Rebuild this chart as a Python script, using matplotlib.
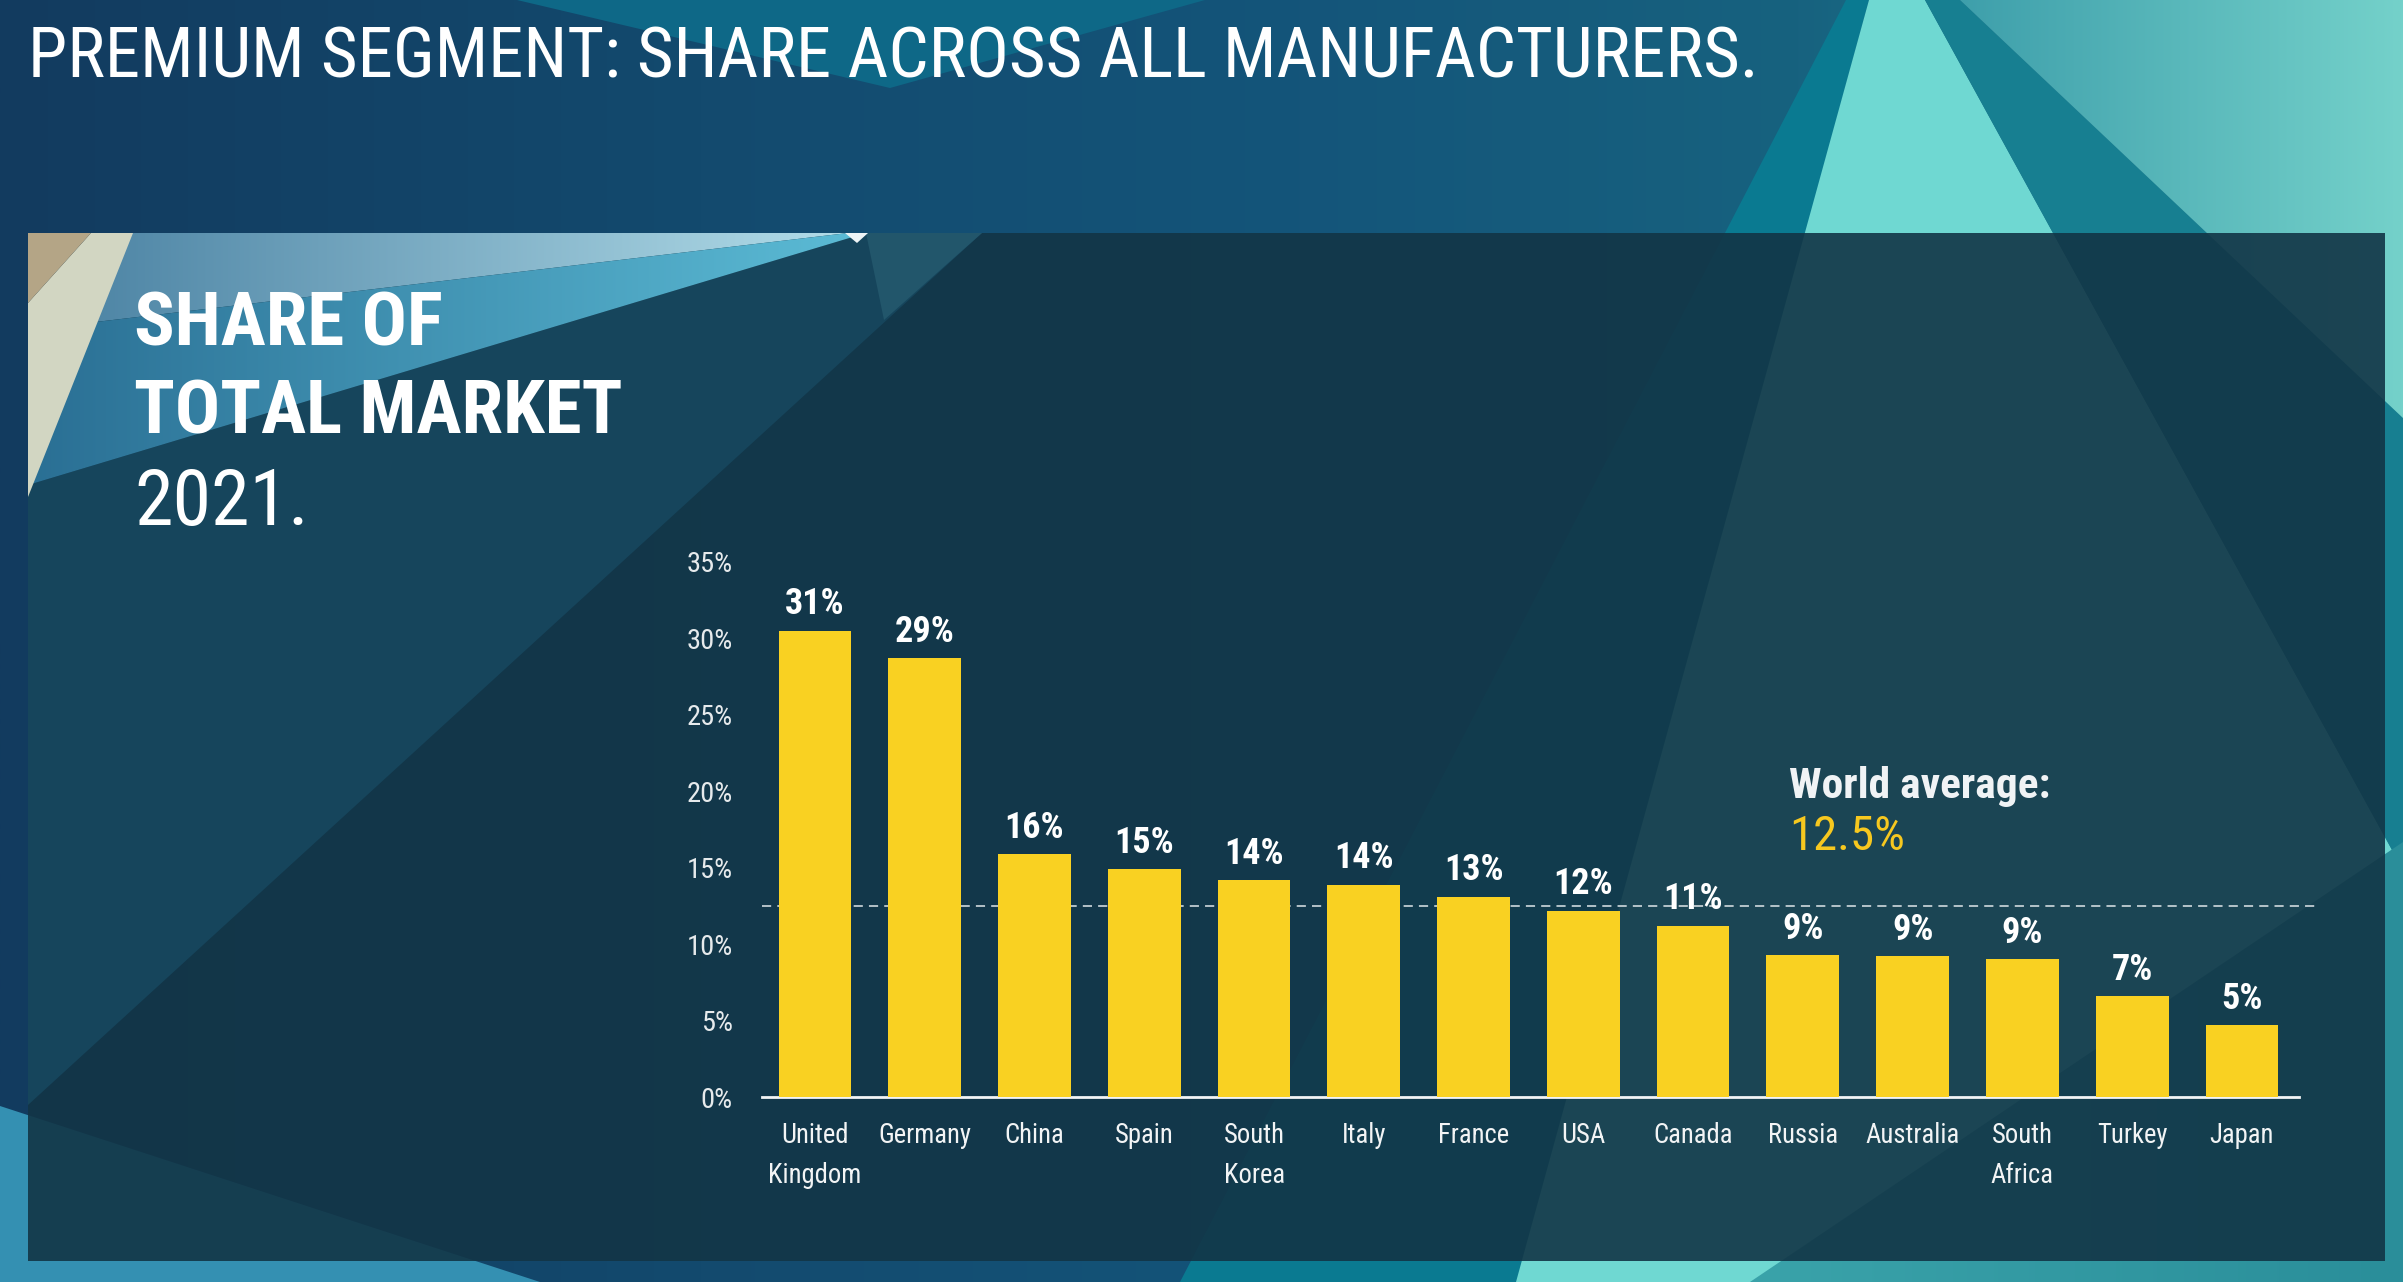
import numpy as np
import matplotlib.pyplot as plt
from matplotlib import font_manager
from matplotlib.patches import Polygon, Rectangle
from matplotlib.colors import to_rgb

# Data
countries = ['United\nKingdom', 'Germany', 'China', 'Spain', 'South\nKorea', 'Italy',
             'France', 'USA', 'Canada', 'Russia', 'Australia', 'South\nAfrica', 'Turkey', 'Japan']
share = [30.5, 28.7, 15.9, 14.9, 14.2, 13.9, 13.1, 12.2, 11.2, 9.3, 9.2, 9.0, 6.6, 4.7]
share_labels = ['31%', '29%', '16%', '15%', '14%', '14%', '13%', '12%', '11%',
                '9%', '9%', '9%', '7%', '5%']
world_avg = 12.5
y_ticks = [0, 5, 10, 15, 20, 25, 30, 35]

# Look for a narrow font, otherwise Roboto
fonts = font_manager.fontManager.ttflist
font, stretch = 'Roboto', 'normal'
found = False
for want in ['Roboto Condensed', 'Liberation Sans Narrow', 'Noto Sans Condensed',
             'Open Sans Condensed', 'DejaVu Sans Condensed']:
    if any(f.name == want for f in fonts):
        font, found = want, True
        break
if not found:
    for fam in ['Roboto', 'Noto Sans', 'Open Sans', 'DejaVu Sans']:
        if any(f.name == fam and str(f.stretch) in ('condensed', 'semi-condensed') for f in fonts):
            font, stretch = fam, 'condensed'
            break
plt.rcParams['font.family'] = [font, 'DejaVu Sans']
plt.rcParams['font.stretch'] = stretch

W, H = 2403, 1282
fig = plt.figure(figsize=(W / 100, H / 100), dpi=100)
renderer = fig.canvas.get_renderer()


def size_for(s, target, weight='normal', base=20):
    # font size that makes string s about target pixels wide
    t = fig.text(0, 0, s, fontsize=base, fontweight=weight)
    w = t.get_window_extent(renderer).width
    t.remove()
    return base * target / w


# Background axes in pixel coordinates
bg = fig.add_axes([0, 0, 1, 1])
bg.axis('off')


def grad(verts, stops, zorder, alpha=1.0):
    # horizontal gradient, optionally clipped to a polygon
    xs = np.linspace(0, W, 800)
    sx = [s[0] for s in stops]
    cols = np.array([to_rgb(s[1]) for s in stops])
    img = np.stack([np.interp(xs, sx, cols[:, i]) for i in range(3)], axis=-1)[None, :, :]
    im = bg.imshow(img, extent=(0, W, H, 0), aspect='auto', zorder=zorder,
                   alpha=alpha, interpolation='bilinear')
    if verts is not None:
        p = Polygon(verts, closed=True, facecolor='none', edgecolor='none')
        bg.add_patch(p)
        im.set_clip_path(p)


def poly(verts, color, zorder, alpha=1.0):
    bg.add_patch(Polygon(verts, closed=True, facecolor=color, edgecolor='none',
                         zorder=zorder, alpha=alpha))


# base backdrop
grad(None, [(0, '#123b5f'), (700, '#134a6e'), (1300, '#14557a'), (1800, '#17627f'),
            (W, '#2a8c9a')], 0)
poly([(517, 0), (1205, 0), (890, 88)], '#0e6887', 1)
poly([(1846, 0), (1869, 0), (1522, H), (1180, H)], '#0a7a91', 1)
poly([(1869, 0), (1925, 0), (W, 870), (W, H), (1516, H)], '#6fd8d2', 1)
poly([(1925, 0), (1960, 0), (W, 418), (W, 870)], '#177f91', 1)
grad([(1960, 0), (W, 0), (W, 418)], [(1960, '#3e9fab'), (W, '#74d1ca')], 1)
grad([(W, 842), (W, H), (1750, H)], [(1750, '#3aa3aa'), (W, '#2a8e9a')], 1)
poly([(0, 1106), (540, H), (0, H)], '#3490b2', 1)

# dark translucent panel
bg.add_patch(Rectangle((28, 233), 2357, 1028, facecolor='#123546', edgecolor='none',
                       alpha=0.9, zorder=2))

# light wedges in the panel's top-left corner
poly([(866, 233), (982, 233), (28, 1105), (28, 485)], '#16455c', 3)
poly([(866, 233), (982, 233), (884, 320)], '#22566b', 3)
grad([(91, 233), (848, 233), (28, 330)], [(91, '#4f86a6'), (848, '#b3dde9')], 3)
grad([(28, 330), (848, 233), (866, 233), (28, 485)], [(28, '#2a6f94'), (866, '#5cbcd6')], 3)
poly([(845, 233), (868, 233), (857, 243)], '#eef4f6', 3)
poly([(91, 233), (133, 233), (28, 497), (28, 303)], '#d2d6c2', 3)
poly([(28, 233), (91, 233), (28, 303)], '#b4a586', 3)

bg.set_xlim(0, W)
bg.set_ylim(H, 0)

# headings, sized to the widths in the reference
title = 'PREMIUM SEGMENT: SHARE ACROSS ALL MANUFACTURERS.'
bg.text(28, 77, title, fontsize=size_for(title, 1729), color='white',
        va='baseline', ha='left', zorder=6)
head_size = size_for('TOTAL MARKET', 489, 'bold')
bg.text(134, 345, 'SHARE OF', fontsize=head_size, fontweight='bold', color='white',
        va='baseline', zorder=6)
bg.text(134, 433, 'TOTAL MARKET', fontsize=head_size, fontweight='bold', color='white',
        va='baseline', zorder=6)
bg.text(134, 525, '2021.', fontsize=size_for('2021.', 175), color='white',
        va='baseline', zorder=6)
bg.text(1789, 798, 'World average:', fontsize=size_for('World average:', 261, 'bold'),
        fontweight='bold', color='#f0f3f5', va='baseline', zorder=6)
avg_txt = f'{world_avg}%'
bg.text(1789, 850, avg_txt, fontsize=size_for(avg_txt, 116), color='#f7c81f',
        va='baseline', zorder=6)

# Bar chart
ax = fig.add_axes([762 / W, 1 - 1097 / H, (2299 - 762) / W, (1097 - 562) / H])
ax.set_facecolor('none')
ax.set_zorder(5)
x = np.arange(len(countries))
bars = ax.bar(x, share, width=0.663, color='#f9d122', zorder=3)
val_size = min(26, size_for('31%', 62, 'bold'))
ax.bar_label(bars, labels=share_labels, padding=6, fontsize=val_size, fontweight='bold',
             color='white')
ax.axhline(world_avg, xmin=0, xmax=1.012, color='#dfe6ea', lw=1.1,
           linestyle=(0, (6, 4)), zorder=1, clip_on=False)

xl_size = size_for('Australia', 94)
yl_size = min(20.5, size_for('35%', 52))
ax.set_xlim(-0.483, 13.52)
ax.set_ylim(0, 35)
ax.set_yticks(y_ticks)
ax.set_yticklabels([f'{t}%' for t in y_ticks])
ax.set_xticks(x)
ax.set_xticklabels(countries, linespacing=36.7 / (1.19 * xl_size))
ax.tick_params(axis='y', length=0, pad=21, labelsize=yl_size, labelcolor='#e6eaec')
ax.tick_params(axis='x', length=0, pad=18, labelsize=xl_size, labelcolor='#f2f4f5')
for s in ['top', 'right', 'left']:
    ax.spines[s].set_visible(False)
ax.spines['bottom'].set_color('#f2f4f5')
ax.spines['bottom'].set_linewidth(2)
for lbl in ax.get_xticklabels():
    lbl.set_multialignment('center')

fig.savefig('out.png', dpi=100)
